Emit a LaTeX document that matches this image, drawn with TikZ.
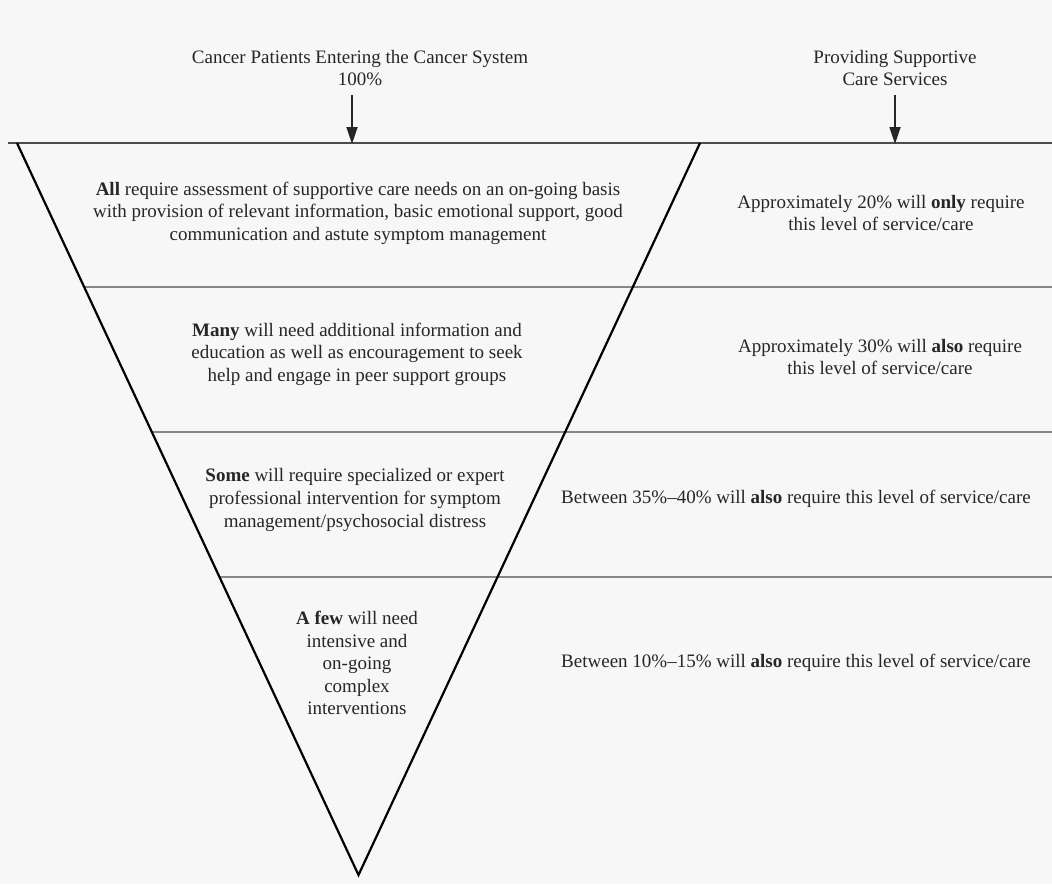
\documentclass[tikz,border=0pt]{standalone}
\usepackage{fontspec}
\setmainfont{Liberation Serif}
\usetikzlibrary{calc,arrows.meta}
\tikzset{
  txt/.style={align=center, text=black!85, inner sep=0pt, font=\fontsize{19}{22.6}\selectfont},
  edge/.style={line width=2.2pt, black},
  rule/.style={line width=1.3pt, black!70},
  downarrow/.style={line width=1.8pt, black!85, -{Triangle[length=17pt,width=11pt]}}
}
\begin{document}
\begin{tikzpicture}[x=1pt,y=-1pt]
\useasboundingbox (0,0) rectangle (1052,884);
\fill[white!97!black] (0,0) rectangle (1052,884);
% triangle corners
\coordinate (L) at (17,143);
\coordinate (R) at (700,143);
\coordinate (B) at (358.5,875);
\coordinate (T0) at (8,143);
\coordinate (E0) at (1052,143);
% horizontal separators
\coordinate (L1) at ($(L)!0.1967!(B)$);
\coordinate (L2) at ($(L)!0.3948!(B)$);
\coordinate (L3) at ($(L)!0.5929!(B)$);
\coordinate (E1) at (1052,287);
\coordinate (E2) at (1052,432);
\coordinate (E3) at (1052,577);
\draw[rule] (T0) -- (E0);
\draw[rule] (L1) -- (E1);
\draw[rule] (L2) -- (E2);
\draw[rule] (L3) -- (E3);
\draw[edge, line join=miter] (L) -- (B) -- (R);
% titles
\node[txt] (t1) at (360,68) {Cancer Patients Entering the Cancer System\\100\%};
\node[txt] (t2) at (895,68) {Providing Supportive\\Care Services};
\coordinate (a1s) at (352,95);
\coordinate (a1e) at (352,144);
\coordinate (a2s) at (895,95);
\coordinate (a2e) at (895,144);
\draw[downarrow] (a1s) -- (a1e);
\draw[downarrow] (a2s) -- (a2e);
% row 1
\node[txt] (r1l) at (358,213) {\textbf{All} require assessment of supportive care needs on an on-going basis\\with provision of relevant information, basic emotional support, good\\communication and astute symptom management};
\node[txt] (r1r) at (881,213) {Approximately 20\% will \textbf{only} require\\this level of service/care};
% row 2
\node[txt] (r2l) at (357,354) {\textbf{Many} will need additional information and\\education as well as encouragement to seek\\help and engage in peer support groups};
\node[txt] (r2r) at (880,357) {Approximately 30\% will \textbf{also} require\\this level of service/care};
% row 3
\node[txt] (r3l) at (355,500) {\textbf{Some} will require specialized or expert\\professional intervention for symptom\\management/psychosocial distress};
\node[txt] (r3r) at (796,499) {Between 35\%--40\% will \textbf{also} require this level of service/care};
% row 4
\node[txt] (r4l) at (357,663) {\textbf{A few} will need\\intensive and\\on-going\\complex\\interventions};
\node[txt] (r4r) at (796,663) {Between 10\%--15\% will \textbf{also} require this level of service/care};
\end{tikzpicture}
\end{document}
